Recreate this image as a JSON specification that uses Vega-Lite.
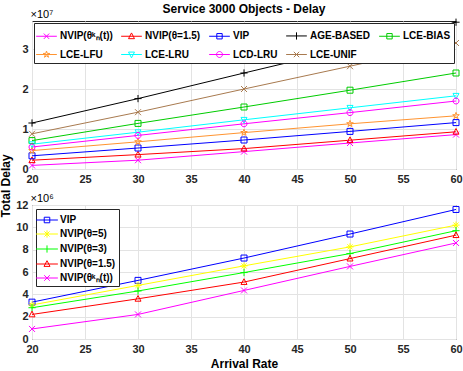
{
  "$schema": "https://vega.github.io/schema/vega-lite/v6.json",
  "padding": {"left": 0, "top": 2, "right": 1, "bottom": 2},
  "config": {
    "font": "Liberation Sans",
    "view": {"stroke": "#262626", "strokeWidth": 1},
    "axis": {"labelFont": "Liberation Sans", "labelFontWeight": "bold", "labelFontSize": 11, "labelColor": "#262626", "labelFlush": false, "gridColor": "#e3e3e3", "domain": false, "ticks": false, "labelPadding": 4, "titleFont": "Liberation Sans", "titleFontWeight": "bold", "titleFontSize": 12, "titleColor": "#000000"},
    "legend": {"labelFont": "Liberation Sans", "labelFontWeight": "bold", "labelFontSize": 10, "labelColor": "#000000", "fillColor": "white", "strokeColor": "#262626", "padding": 3, "symbolStrokeWidth": 1},
    "title": {"font": "Liberation Sans", "fontSize": 12, "fontWeight": "bold", "color": "#000000"}
  },
  "title": {"text": "Total Delay", "orient": "left", "anchor": "middle", "offset": 2},
  "resolve": {"scale": {"color": "independent", "shape": "independent"}, "legend": {"color": "independent", "shape": "independent"}},
  "spacing": 6,
  "vconcat": [
    {
      "width": 424,
      "height": 148,
      "title": {"text": "Service 3000 Objects - Delay", "anchor": "middle", "offset": -8},
      "data": {"values": [
        {"series": "NVIP(θᵏₙ(t))", "rate": 20, "delay": 900000},
        {"series": "NVIP(θᵏₙ(t))", "rate": 30, "delay": 2200000},
        {"series": "NVIP(θᵏₙ(t))", "rate": 40, "delay": 4350000},
        {"series": "NVIP(θᵏₙ(t))", "rate": 50, "delay": 6500000},
        {"series": "NVIP(θᵏₙ(t))", "rate": 60, "delay": 8600000},
        {"series": "NVIP(θ=1.5)", "rate": 20, "delay": 2200000},
        {"series": "NVIP(θ=1.5)", "rate": 30, "delay": 3600000},
        {"series": "NVIP(θ=1.5)", "rate": 40, "delay": 5100000},
        {"series": "NVIP(θ=1.5)", "rate": 50, "delay": 7200000},
        {"series": "NVIP(θ=1.5)", "rate": 60, "delay": 9300000},
        {"series": "VIP", "rate": 20, "delay": 3300000},
        {"series": "VIP", "rate": 30, "delay": 5250000},
        {"series": "VIP", "rate": 40, "delay": 7250000},
        {"series": "VIP", "rate": 50, "delay": 9400000},
        {"series": "VIP", "rate": 60, "delay": 11600000},
        {"series": "AGE-BASED", "rate": 20, "delay": 11500000},
        {"series": "AGE-BASED", "rate": 30, "delay": 17600000},
        {"series": "AGE-BASED", "rate": 40, "delay": 24000000},
        {"series": "AGE-BASED", "rate": 50, "delay": 30300000},
        {"series": "AGE-BASED", "rate": 60, "delay": 36700000},
        {"series": "LCE-BIAS", "rate": 20, "delay": 7100000},
        {"series": "LCE-BIAS", "rate": 30, "delay": 11400000},
        {"series": "LCE-BIAS", "rate": 40, "delay": 15500000},
        {"series": "LCE-BIAS", "rate": 50, "delay": 19700000},
        {"series": "LCE-BIAS", "rate": 60, "delay": 24000000},
        {"series": "LCE-LFU", "rate": 20, "delay": 4600000},
        {"series": "LCE-LFU", "rate": 30, "delay": 6800000},
        {"series": "LCE-LFU", "rate": 40, "delay": 9100000},
        {"series": "LCE-LFU", "rate": 50, "delay": 11300000},
        {"series": "LCE-LFU", "rate": 60, "delay": 13300000},
        {"series": "LCE-LRU", "rate": 20, "delay": 6200000},
        {"series": "LCE-LRU", "rate": 30, "delay": 9200000},
        {"series": "LCE-LRU", "rate": 40, "delay": 12300000},
        {"series": "LCE-LRU", "rate": 50, "delay": 15300000},
        {"series": "LCE-LRU", "rate": 60, "delay": 18300000},
        {"series": "LCD-LRU", "rate": 20, "delay": 5500000},
        {"series": "LCD-LRU", "rate": 30, "delay": 8400000},
        {"series": "LCD-LRU", "rate": 40, "delay": 11300000},
        {"series": "LCD-LRU", "rate": 50, "delay": 14100000},
        {"series": "LCD-LRU", "rate": 60, "delay": 17000000},
        {"series": "LCE-UNIF", "rate": 20, "delay": 8800000},
        {"series": "LCE-UNIF", "rate": 30, "delay": 14200000},
        {"series": "LCE-UNIF", "rate": 40, "delay": 20000000},
        {"series": "LCE-UNIF", "rate": 50, "delay": 25700000},
        {"series": "LCE-UNIF", "rate": 60, "delay": 31500000}
      ]},
      "encoding": {
        "x": {"field": "rate", "type": "quantitative", "scale": {"domain": [20, 60], "nice": false}, "axis": {"values": [20, 25, 30, 35, 40, 45, 50, 55, 60], "title": null}},
        "y": {"field": "delay", "type": "quantitative", "scale": {"domain": [0, 37000000], "nice": false}, "axis": {"values": [0, 10000000, 20000000, 30000000], "labelExpr": "format(datum.value/10000000, 'd')", "title": "×10⁷", "titleAngle": 0, "titleAlign": "left", "titleBaseline": "alphabetic", "titleX": -2, "titleY": -4, "titleFontWeight": "normal", "titleFontSize": 11}}
      },
      "resolve": {"scale": {"shape": "independent", "color": "independent"}},
      "layer": [
        {"mark": {"type": "line", "strokeWidth": 1},
         "encoding": {"color": {"field": "series", "type": "nominal", "legend": null,
          "scale": {"domain": ["NVIP(θᵏₙ(t))", "NVIP(θ=1.5)", "VIP", "AGE-BASED", "LCE-BIAS", "LCE-LFU", "LCE-LRU", "LCD-LRU", "LCE-UNIF"],
                    "range": ["#FF00FF", "#FF0000", "#0000FF", "#000000", "#00CC00", "#FF9430", "#00FFFF", "#FF00FF", "#A87A4F"]}}}},
        {"mark": {"type": "point", "filled": false, "size": 36, "strokeWidth": 1, "opacity": 1},
         "encoding": {
          "color": {"field": "series", "type": "nominal", "legend": null,
            "scale": {"domain": ["NVIP(θᵏₙ(t))", "NVIP(θ=1.5)", "VIP", "AGE-BASED", "LCE-BIAS", "LCE-LFU", "LCE-LRU", "LCD-LRU", "LCE-UNIF"],
                    "range": ["#FF00FF", "#FF0000", "#0000FF", "#000000", "#00CC00", "#FF9430", "#00FFFF", "#FF00FF", "#A87A4F"]}},
          "shape": {"field": "series", "type": "nominal", "legend": null,
           "scale": {"domain": ["NVIP(θᵏₙ(t))", "NVIP(θ=1.5)", "VIP", "AGE-BASED", "LCE-BIAS", "LCE-LFU", "LCE-LRU", "LCD-LRU", "LCE-UNIF"],
             "range": ["M-1,-1L1,1M-1,1L1,-1", "M0,-1.1L1,0.8H-1Z", "M-1,-1H1V1H-1Z", "M-1.2,0H1.2M0,-1.2V1.2", "M-1,-1H1V1H-1Z", "M0,-1.15L0.265,-0.364L1.094,-0.355L0.428,0.139L0.676,0.93L0,0.45L-0.676,0.93L-0.428,0.139L-1.094,-0.355L-0.265,-0.364Z", "M0,1.1L1,-0.8H-1Z", "M1,0A1,1,0,1,1,-1,0A1,1,0,1,1,1,0Z", "M-1,-1L1,1M-1,1L1,-1"]}}}},
        {"transform": [{"filter": "false"}],
         "mark": {"type": "point", "filled": false, "strokeWidth": 1, "opacity": 1},
         "encoding": {
          "color": {"field": "series", "type": "nominal",
            "scale": {"domain": ["NVIP(θᵏₙ(t))", "NVIP(θ=1.5)", "VIP", "AGE-BASED", "LCE-BIAS", "LCE-LFU", "LCE-LRU", "LCD-LRU", "LCE-UNIF"],
                    "range": ["#FF00FF", "#FF0000", "#0000FF", "#000000", "#00CC00", "#FF9430", "#00FFFF", "#FF00FF", "#A87A4F"]},
            "legend": {"title": null, "orient": "top-left", "offset": 2, "columns": 5, "direction": "horizontal", "columnPadding": 6, "rowPadding": 3, "symbolSize": 324, "labelOffset": 4}},
          "shape": {"field": "series", "type": "nominal",
            "legend": {"title": null, "orient": "top-left", "offset": 2, "columns": 5, "direction": "horizontal", "columnPadding": 6, "rowPadding": 3, "symbolSize": 324, "labelOffset": 4},
            "scale": {"domain": ["NVIP(θᵏₙ(t))", "NVIP(θ=1.5)", "VIP", "AGE-BASED", "LCE-BIAS", "LCE-LFU", "LCE-LRU", "LCD-LRU", "LCE-UNIF"],
              "range": ["M-1.15,0H1.15M-0.3,-0.3L0.3,0.3M-0.3,0.3L0.3,-0.3", "M-1.15,0H1.15M0,-0.37L0.33,0.27H-0.33Z", "M-1.15,0H1.15M-0.3,-0.3H0.3V0.3H-0.3Z", "M-1.15,0H1.15M0,-0.4V0.4", "M-1.15,0H1.15M-0.3,-0.3H0.3V0.3H-0.3Z", "M-1.15,0H1.15M0,-0.38L0.087,-0.12L0.361,-0.117L0.141,0.046L0.223,0.307L0,0.149L-0.223,0.307L-0.141,0.046L-0.361,-0.117L-0.087,-0.12Z", "M-1.15,0H1.15M0,0.37L0.33,-0.27H-0.33Z", "M-1.15,0H1.15M0.33,0A0.33,0.33,0,1,1,-0.33,0A0.33,0.33,0,1,1,0.33,0Z", "M-1.15,0H1.15M-0.3,-0.3L0.3,0.3M-0.3,0.3L0.3,-0.3"]}}}}
      ]
    },
    {
      "width": 424,
      "height": 134,
      "data": {"values": [
        {"series": "VIP", "rate": 20, "delay": 3300000},
        {"series": "VIP", "rate": 30, "delay": 5250000},
        {"series": "VIP", "rate": 40, "delay": 7250000},
        {"series": "VIP", "rate": 50, "delay": 9400000},
        {"series": "VIP", "rate": 60, "delay": 11600000},
        {"series": "NVIP(θ=5)", "rate": 20, "delay": 3050000},
        {"series": "NVIP(θ=5)", "rate": 30, "delay": 4800000},
        {"series": "NVIP(θ=5)", "rate": 40, "delay": 6550000},
        {"series": "NVIP(θ=5)", "rate": 50, "delay": 8250000},
        {"series": "NVIP(θ=5)", "rate": 60, "delay": 10200000},
        {"series": "NVIP(θ=3)", "rate": 20, "delay": 2800000},
        {"series": "NVIP(θ=3)", "rate": 30, "delay": 4300000},
        {"series": "NVIP(θ=3)", "rate": 40, "delay": 5950000},
        {"series": "NVIP(θ=3)", "rate": 50, "delay": 7650000},
        {"series": "NVIP(θ=3)", "rate": 60, "delay": 9700000},
        {"series": "NVIP(θ=1.5)", "rate": 20, "delay": 2200000},
        {"series": "NVIP(θ=1.5)", "rate": 30, "delay": 3600000},
        {"series": "NVIP(θ=1.5)", "rate": 40, "delay": 5100000},
        {"series": "NVIP(θ=1.5)", "rate": 50, "delay": 7200000},
        {"series": "NVIP(θ=1.5)", "rate": 60, "delay": 9300000},
        {"series": "NVIP(θᵏₙ(t))", "rate": 20, "delay": 900000},
        {"series": "NVIP(θᵏₙ(t))", "rate": 30, "delay": 2200000},
        {"series": "NVIP(θᵏₙ(t))", "rate": 40, "delay": 4350000},
        {"series": "NVIP(θᵏₙ(t))", "rate": 50, "delay": 6500000},
        {"series": "NVIP(θᵏₙ(t))", "rate": 60, "delay": 8600000}
      ]},
      "encoding": {
        "x": {"field": "rate", "type": "quantitative", "scale": {"domain": [20, 60], "nice": false}, "axis": {"values": [20, 25, 30, 35, 40, 45, 50, 55, 60], "title": "Arrival Rate", "titlePadding": 4}},
        "y": {"field": "delay", "type": "quantitative", "scale": {"domain": [0, 12000000], "nice": false}, "axis": {"values": [0, 2000000, 4000000, 6000000, 8000000, 10000000, 12000000], "labelExpr": "format(datum.value/1000000, 'd')", "title": "×10⁶", "titleAngle": 0, "titleAlign": "left", "titleBaseline": "alphabetic", "titleX": -2, "titleY": -4, "titleFontWeight": "normal", "titleFontSize": 11}}
      },
      "resolve": {"scale": {"shape": "independent", "color": "independent"}},
      "layer": [
        {"mark": {"type": "line", "strokeWidth": 1},
         "encoding": {"color": {"field": "series", "type": "nominal", "legend": null,
          "scale": {"domain": ["VIP", "NVIP(θ=5)", "NVIP(θ=3)", "NVIP(θ=1.5)", "NVIP(θᵏₙ(t))"],
                    "range": ["#0000FF", "#FFFF00", "#00FF00", "#FF0000", "#FF00FF"]}}}},
        {"mark": {"type": "point", "filled": false, "size": 36, "strokeWidth": 1, "opacity": 1},
         "encoding": {
          "color": {"field": "series", "type": "nominal", "legend": null,
            "scale": {"domain": ["VIP", "NVIP(θ=5)", "NVIP(θ=3)", "NVIP(θ=1.5)", "NVIP(θᵏₙ(t))"],
                    "range": ["#0000FF", "#FFFF00", "#00FF00", "#FF0000", "#FF00FF"]}},
          "shape": {"field": "series", "type": "nominal", "legend": null,
           "scale": {"domain": ["VIP", "NVIP(θ=5)", "NVIP(θ=3)", "NVIP(θ=1.5)", "NVIP(θᵏₙ(t))"],
             "range": ["M-1,-1H1V1H-1Z", "M-1.2,0H1.2M0,-1.2V1.2M-0.85,-0.85L0.85,0.85M-0.85,0.85L0.85,-0.85", "M-1.2,0H1.2M0,-1.2V1.2", "M0,-1.1L1,0.8H-1Z", "M-1,-1L1,1M-1,1L1,-1"]}}}},
        {"transform": [{"filter": "false"}],
         "mark": {"type": "point", "filled": false, "strokeWidth": 1, "opacity": 1},
         "encoding": {
          "color": {"field": "series", "type": "nominal",
            "scale": {"domain": ["VIP", "NVIP(θ=5)", "NVIP(θ=3)", "NVIP(θ=1.5)", "NVIP(θᵏₙ(t))"],
                    "range": ["#0000FF", "#FFFF00", "#00FF00", "#FF0000", "#FF00FF"]},
            "legend": {"title": null, "orient": "top-left", "offset": 4, "rowPadding": 1, "symbolSize": 225, "labelOffset": 5}},
          "shape": {"field": "series", "type": "nominal",
            "legend": {"title": null, "orient": "top-left", "offset": 4, "rowPadding": 1, "symbolSize": 225, "labelOffset": 5},
            "scale": {"domain": ["VIP", "NVIP(θ=5)", "NVIP(θ=3)", "NVIP(θ=1.5)", "NVIP(θᵏₙ(t))"],
              "range": ["M-1.45,0H1.45M-0.37,-0.37H0.37V0.37H-0.37Z", "M-1.45,0H1.45M0,-0.48V0.48M-0.34,-0.34L0.34,0.34M-0.34,0.34L0.34,-0.34", "M-1.45,0H1.45M0,-0.48V0.48", "M-1.45,0H1.45M0,-0.44L0.4,0.32H-0.4Z", "M-1.45,0H1.45M-0.37,-0.37L0.37,0.37M-0.37,0.37L0.37,-0.37"]}}}}
      ]
    }
  ]
}
